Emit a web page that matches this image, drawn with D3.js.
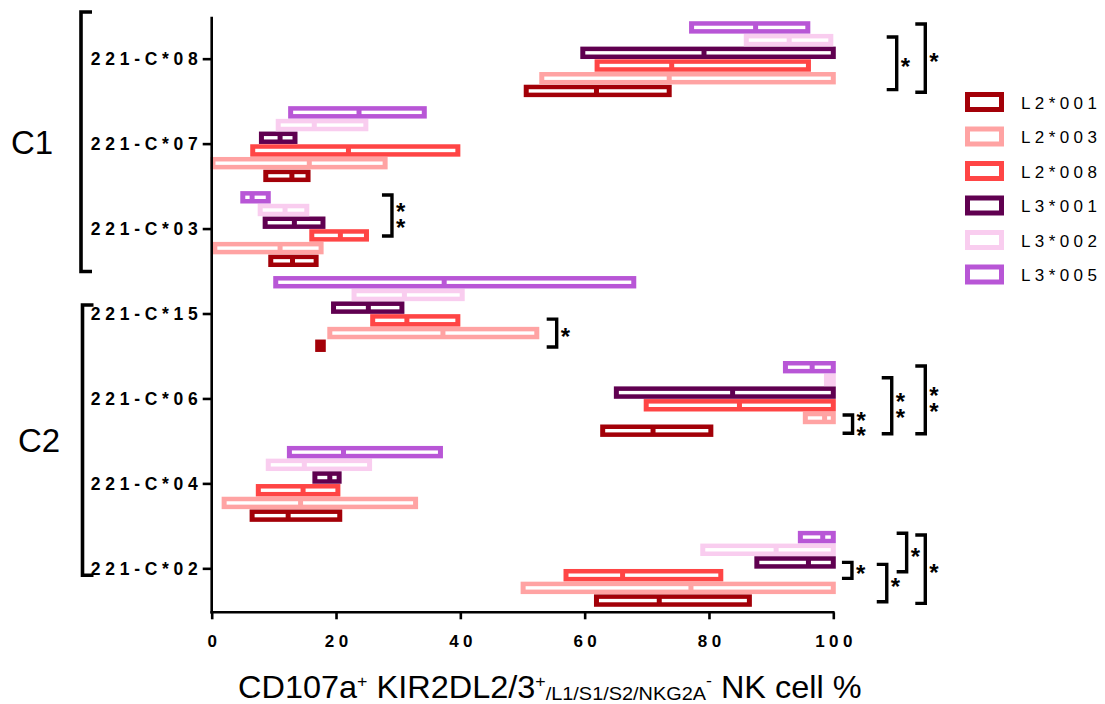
<!DOCTYPE html>
<html lang="en">
<head>
    <meta charset="utf-8">
    <script src="https://d3js.org/d3.v7.min.js"></script>
    <style>
        body { margin: 0; background: #fff; }
        svg { display: block; font-family: "Liberation Sans", Arial, sans-serif; }
    </style>
</head>
<body>
    <svg></svg>
    <script>
        // categories, top to bottom
        const categories = ['221-C*08', '221-C*07', '221-C*03', '221-C*15', '221-C*06', '221-C*04', '221-C*02']
        const seriesNames = ['L2*001', 'L2*003', 'L2*008', 'L3*001', 'L3*002', 'L3*005']
        const seriesColors = ['#a30008', '#ffa3a3', '#ff4545', '#600050', '#f9cdef', '#b856d6']

        // [min, median, max] for each category, same order as categories
        const L2_001 = [[50.6, 61.9, 73.6], [8.7, 12.9, 15.5], [9.5, 13.0, 16.8], [17.05, 17.5, 17.95], [62.9, 71.0, 80.3], [6.5, 12.3, 20.6], [61.9, 72.0, 86.5]]
        const L2_003 = [[53.1, 73.6, 100], [0.2, 15.7, 27.9], [0.5, 11.0, 17.6], [19.0, 37.2, 52.3], [95.5, 98.6, 100], [2.0, 14.3, 32.8], [50.1, 77.1, 100]]
        const L2_008 = [[62.0, 74.0, 96.0], [6.6, 22.0, 39.6], [16.1, 20.7, 24.9], [25.9, 31.4, 39.6], [69.9, 84.9, 100], [7.5, 14.7, 20.3], [57.0, 66.1, 81.9]]
        const L3_001 = [[59.7, 79.2, 100], [8.0, 11.0, 13.4], [8.6, 13.3, 17.9], [19.6, 25.2, 30.6], [65.1, 83.8, 100], [16.6, 19.0, 20.5], [87.7, 96.0, 100]]
        const L3_002 = [[86.0, 92.9, 99.6], [10.7, 16.5, 24.8], [7.8, 11.8, 15.3], [22.9, 31.0, 40.3], [98.9, 99.5, 100], [9.1, 14.9, 25.4], [79.0, 90.8, 100]]
        const L3_005 = [[77.2, 87.5, 95.9], [12.7, 23.7, 34.2], [5.0, 6.5, 9.1], [10.3, 37.4, 67.9], [92.3, 96.6, 100], [12.5, 21.2, 36.8], [94.7, 98.3, 100]]
        const seriesValues = [L2_001, L2_003, L2_008, L3_001, L3_002, L3_005]

        const xTicks = [0, 20, 40, 60, 80, 100]

        // significance brackets: x in data units, from/to in bar slots from the top of the group
        const brackets = [
            { cat: '221-C*08', x: 110.2, from: 1.25, to: 5.4, label: '*' },
            { cat: '221-C*08', x: 114.8, from: 0.23, to: 5.6, label: '*' },
            { cat: '221-C*03', x: 29.0, from: 0.32, to: 3.55, label: '**' },
            { cat: '221-C*15', x: 55.5, from: 3.4, to: 5.6, label: '*' },
            { cat: '221-C*06', x: 103.1, from: 4.27, to: 5.7, label: '**' },
            { cat: '221-C*06', x: 109.4, from: 1.33, to: 5.74, label: '**' },
            { cat: '221-C*06', x: 114.8, from: 0.41, to: 5.74, label: '**' },
            { cat: '221-C*02', x: 103.0, from: 2.49, to: 3.75, label: '*' },
            { cat: '221-C*02', x: 108.6, from: 2.65, to: 5.59, label: '*' },
            { cat: '221-C*02', x: 111.8, from: 0.2, to: 3.23, label: '*' },
            { cat: '221-C*02', x: 114.8, from: 0.34, to: 5.72, label: '*' }
        ]

        const groupNames = ['C1', 'C2']
        const groupFirst = ['221-C*08', '221-C*15']
        const groupLast = ['221-C*03', '221-C*02']

        draw()

        function draw() {
            const W = 1105, H = 704
            const svg = d3.select('svg').attr('width', W).attr('height', H)

            const x = d3.scaleLinear().domain([0, 100]).range([211.7, 833.3])
            const y = d3.scaleBand().domain(categories).range([16.7, 611.3])
            // bars inside a group go L3*005 at top down to L2*001
            const order = seriesNames.slice().reverse()
            const yIn = d3.scaleBand().domain(order).range([0, y.bandwidth()]).paddingOuter(0.344)

            const BORDER = 2.5
            const white = 1.7

            // bars
            const rows = []
            seriesNames.forEach((s, si) => {
                categories.forEach((c, ci) => {
                    const v = seriesValues[si][ci]
                    rows.push({ s, c, color: seriesColors[si], lo: v[0], med: v[1], hi: v[2] })
                })
            })

            const bar = svg.append('g').attr('class', 'bars')
                .selectAll('g')
                .data(rows)
                .enter()
                .append('g')
                .attr('transform', d => `translate(0,${y(d.c) + yIn(d.s)})`)

            bar.append('rect')
                .attr('x', d => x(d.lo) - BORDER)
                .attr('y', 0.15)
                .attr('width', d => x(d.hi) - x(d.lo) + 2 * BORDER)
                .attr('height', yIn.bandwidth() - 0.3)
                .attr('fill', d => d.color)

            bar.selectAll('rect.seg')
                .data(d => [[d.lo, d.med], [d.med, d.hi]].map(p => ({ a: p[0], b: p[1] })))
                .enter()
                .filter(p => x(p.b) - x(p.a) - 2 * BORDER > 0.5)
                .append('rect')
                .attr('class', 'seg')
                .attr('x', p => x(p.a) + BORDER)
                .attr('y', yIn.bandwidth() / 2 - white)
                .attr('width', p => x(p.b) - x(p.a) - 2 * BORDER)
                .attr('height', 2 * white)
                .attr('fill', '#fff')

            // axes
            const yAxis = svg.append('g')
                .attr('transform', `translate(${x(0)},0)`)
                .call(d3.axisLeft(y).tickSize(9).tickSizeOuter(0).tickPadding(5))
            yAxis.select('.domain').remove()
            yAxis.append('line')
                .attr('y1', 16.7).attr('y2', 613.5)
                .attr('stroke', '#000').attr('stroke-width', 2.6)
            yAxis.selectAll('.tick line').attr('stroke-width', 2.6)
            yAxis.selectAll('.tick text')
                .attr('font-size', 17.5).attr('font-weight', 'bold')
                .attr('letter-spacing', 4.7).attr('fill', '#000')
                .attr('dx', 4.7).attr('dy', '0.36em')
                .attr('font-family', '"Liberation Sans", Arial, sans-serif')

            const xAxis = svg.append('g')
                .attr('transform', `translate(0,${612.3})`)
                .call(d3.axisBottom(x).tickValues(xTicks).tickSize(7).tickSizeOuter(0).tickPadding(16))
            xAxis.select('.domain').attr('stroke-width', 2.6).attr('d', `M${x(0) - 1.3},0H${x(100) + 1.3}`)
            xAxis.selectAll('.tick line').attr('stroke-width', 2.6)
            xAxis.selectAll('.tick text')
                .attr('font-size', 17).attr('font-weight', 'bold')
                .attr('letter-spacing', 4.4).attr('fill', '#000')
                .attr('dx', 2.2)
                .attr('font-family', '"Liberation Sans", Arial, sans-serif')

            // x title
            const title = svg.append('text')
                .attr('font-size', 31).attr('fill', '#000')
            title.append('tspan').text('CD107a')
            title.append('tspan').attr('font-size', 17).attr('dy', -11).text('+')
            title.append('tspan').attr('dy', 11).text(' KIR2DL2/3')
            title.append('tspan').attr('font-size', 17).attr('dy', -11).text('+')
            title.append('tspan').attr('font-size', 19).attr('dy', 13).text('/L1/S1/S2/NKG2A')
            title.append('tspan').attr('font-size', 17).attr('dy', -14).text('-')
            title.append('tspan').attr('dy', 12).text(' NK cell %')
            const tw = title.node().getComputedTextLength()
            title.attr('transform', `translate(238,698) scale(${624 / tw},1)`)

            // significance brackets
            const sig = svg.append('g').attr('class', 'sig')
            brackets.forEach(b => {
                const top = y(b.cat) + yIn(order[0]) + b.from * yIn.step()
                const bot = y(b.cat) + yIn(order[0]) + b.to * yIn.step()
                const bx = x(b.x)
                sig.append('path')
                    .attr('d', `M${bx - 10},${top}H${bx}V${bot}H${bx - 10}`)
                    .attr('fill', 'none').attr('stroke', '#000').attr('stroke-width', 3.4)
                const mid = (top + bot) / 2
                const stacked = b.label.length === 2
                const t = sig.append('text')
                    .attr('x', bx + 4).attr('y', mid + 12 - (stacked ? 7.5 : 0))
                    .attr('font-size', 24).attr('font-weight', 'bold')
                t.append('tspan').text('*')
                if (stacked) t.append('tspan').attr('x', bx + 4).attr('dy', 15.5).text('*')
            })

            // group brackets C1 / C2
            const grp = svg.append('g').attr('class', 'groups')
            const gTopOff = [-4.7, 33.5]
            const gBotOff = [0, -36]
            groupNames.forEach((g, i) => {
                const top = y(groupFirst[i]) + gTopOff[i]
                const bot = y(groupLast[i]) + y.bandwidth() + gBotOff[i]
                const gx = i === 0 ? 81 : 82.5
                grp.append('path')
                    .attr('d', `M${gx + 11},${top}H${gx}V${bot}H${gx + 11}`)
                    .attr('fill', 'none').attr('stroke', '#000').attr('stroke-width', 3.6)
                grp.append('text')
                    .attr('x', i === 0 ? 11 : 18)
                    .attr('y', (top + bot) / 2 + 12)
                    .attr('font-size', 33)
                    .text(g)
            })

            // legend
            const legend = svg.append('g').attr('class', 'legend')
                .selectAll('g')
                .data(seriesNames)
                .enter()
                .append('g')
                .attr('transform', (d, i) => `translate(965,${102 + i * 34.5})`)
            legend.append('rect')
                .attr('x', 2.5).attr('y', -7.5)
                .attr('width', 34).attr('height', 15)
                .attr('fill', '#fff')
                .attr('stroke', (d, i) => seriesColors[i])
                .attr('stroke-width', 5)
            legend.append('text')
                .attr('x', 56).attr('y', 6.5)
                .attr('font-size', 17).attr('letter-spacing', 4.4)
                .text(d => d)
        }
    </script>
</body>
</html>
